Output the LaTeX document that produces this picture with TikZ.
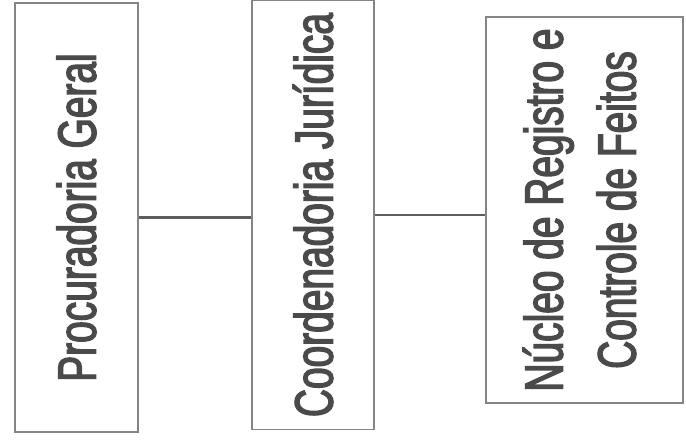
\documentclass[tikz,border=0pt]{standalone}
\usepackage{fontspec}
\setmainfont{Liberation Sans}
\newfontfamily\narrowfont[FakeStretch=0.72,FakeBold=2.5]{Liberation Sans}
\definecolor{boxline}{HTML}{858585}
\definecolor{txt}{HTML}{4A4A4A}
\definecolor{conn}{HTML}{5E5E5E}
\begin{document}
\begin{tikzpicture}[x=1pt,y=-1pt,
  orgbox/.style={draw=boxline, line width=1.6pt, inner sep=0pt, fill=white, text=txt,
    font=\narrowfont\fontsize{54}{73}\selectfont},
  link/.style={draw=conn, line width=2.2pt}]
\useasboundingbox (0,0) rectangle (686,445);
\node[orgbox, minimum width=123pt, minimum height=429pt] (pg) at (76.5,217.5)
  {\rotatebox{90}{Procuradoria Geral}};
\node[orgbox, minimum width=122pt, minimum height=429pt] (cj) at (313,215)
  {\rotatebox{90}{Coordenadoria Jurídica}};
\node[orgbox, minimum width=197pt, minimum height=386pt] (nr) at (584.5,210)
  {\rotatebox{90}{\begin{tabular}{@{}c@{}}Núcleo de Registro e\\Controle de Feitos\end{tabular}}};
\draw[link] (pg.east) -- (pg.east -| cj.west);
\draw[link] (cj.east) -- (cj.east -| nr.west);
\end{tikzpicture}
\end{document}
